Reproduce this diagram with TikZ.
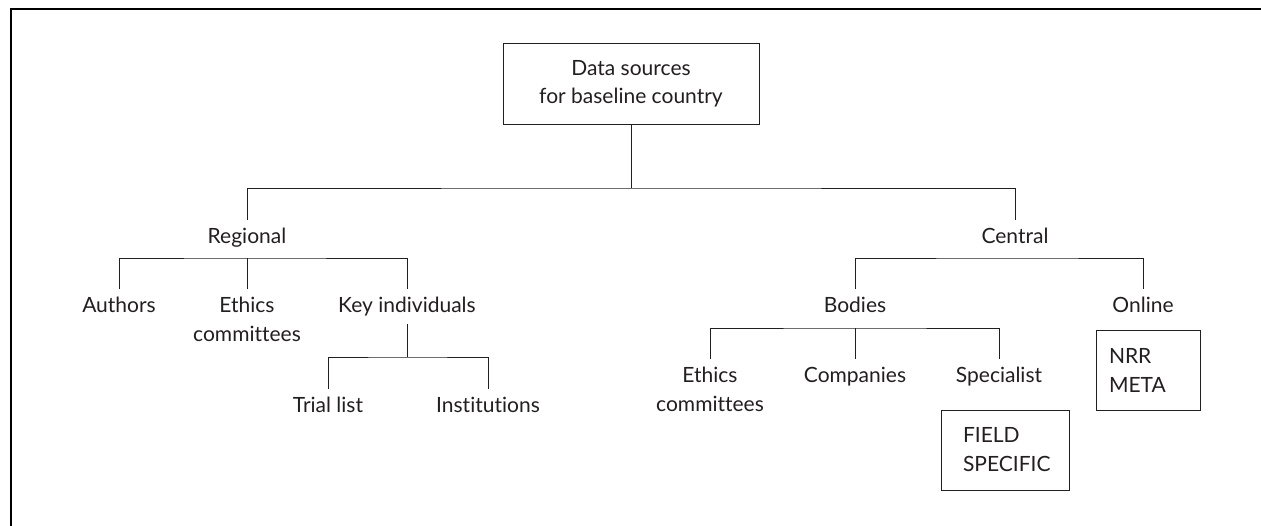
\documentclass[tikz,border=0pt]{standalone}
\usepackage{fontspec}
\setmainfont{Lato}[Ligatures=NoCommon]
\definecolor{ink}{HTML}{231F20}
\begin{document}
\begin{tikzpicture}[x=1pt,y=-1pt,
  every node/.style={font=\fontsize{21}{29}\selectfont, text=ink},
  lbl/.style={anchor=north, inner sep=0pt, outer ysep=8pt, align=center},
  boxed/.style={draw=ink, line width=1pt, inner sep=0pt, align=left},
  link/.style={draw=ink, line width=1pt},
]
\useasboundingbox (0,0) rectangle (1261,525);
\fill[white] (0,0) rectangle (1261,525);
% frame edges
\draw[line width=2pt, draw=black] (1265,9) -- (11,9) -- (11,530);

% root
\node[boxed, align=center, minimum width=256pt, minimum height=81pt,
      font=\fontsize{21}{28}\selectfont] (root) at (631,83.5)
      {Data sources\\for baseline country};

% first level
\node[lbl] (regional) at (247,220) {Regional};
\node[lbl] (central)  at (1015,220) {Central};

% regional branch
\node[lbl] (authors) at (119,289) {Authors};
\node[lbl] (ethicsL) at (247,289) {Ethics\\committees};
\node[lbl] (keyind)  at (407,289) {Key individuals};
\node[lbl] (trial)   at (328,389) {Trial list};
\node[lbl] (inst)    at (488,389) {Institutions};

% central branch
\node[lbl] (bodies) at (855,289) {Bodies};
\node[lbl] (online) at (1143,289) {Online};
\node[lbl] (ethicsR)    at (710,359) {Ethics\\committees};
\node[lbl] (companies)  at (855,359) {Companies};
\node[lbl] (specialist) at (999,359) {Specialist};

\node[boxed, text width=84pt, minimum width=128pt, minimum height=80pt]
      (field) at (1005,450) {FIELD\\SPECIFIC};
\node[boxed, text width=78pt, minimum width=104pt, minimum height=80pt]
      (nrr) at (1148,370) {NRR\\META};

% bar junctions
\coordinate (top)    at (631,188);
\coordinate (regbar) at (247,258);
\coordinate (cenbar) at (1015,258);
\coordinate (keybar) at (407,357);
\coordinate (bodbar) at (855,328);

% connectors
\draw[link] (root.south) -- (top);
\draw[link] (regional.north) |- (top) -| (central.north);
\draw[link] (authors.north) |- (regbar) -| (keyind.north);
\draw[link] (ethicsL.north) -- (regbar);
\draw[link] (keyind.south) -- (keybar);
\draw[link] (trial.north) |- (keybar) -| (inst.north);
\draw[link] (bodies.north) |- (cenbar) -| (online.north);
\draw[link] (ethicsR.north) |- (bodbar) -| (specialist.north);
\draw[link] (companies.north) -- (bodbar);
\end{tikzpicture}
\end{document}
